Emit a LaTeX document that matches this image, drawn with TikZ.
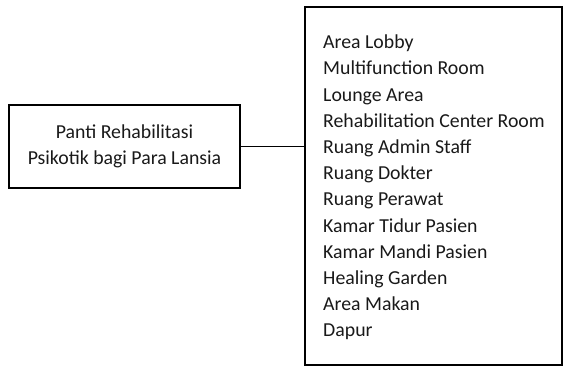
\documentclass[tikz,border=0pt]{standalone}
\usepackage{fontspec}
\setmainfont{Carlito}
\begin{document}
\begin{tikzpicture}[x=1pt,y=1pt,
  box/.style={draw=black,line width=2pt,rectangle,inner sep=0pt},
  lbl/.style={font=\fontsize{19.8}{26.2}\selectfont,inner sep=0pt,text=black!90}]
\useasboundingbox (0,0) rectangle (563,367);
\node[box,minimum width=231pt,minimum height=83pt,align=center,font=\fontsize{19.8}{26.2}\selectfont,text=black!90] (L) at (124.5,220.5) {Panti Rehabilitasi\\Psikotik bagi Para Lansia};
\node[box,minimum width=257pt,minimum height=358pt] (R) at (433.5,181) {};
\node[lbl,align=left,anchor=north west] (list) at (323,332.3) {Area Lobby\\Multifunction Room\\Lounge Area\\Rehabilitation Center Room\\Ruang Admin Staff\\Ruang Dokter\\Ruang Perawat\\Kamar Tidur Pasien\\Kamar Mandi Pasien\\Healing Garden\\Area Makan\\Dapur};
\draw[line width=1.5pt] (L.east) -- (L.east -| R.west);
\end{tikzpicture}
\end{document}
